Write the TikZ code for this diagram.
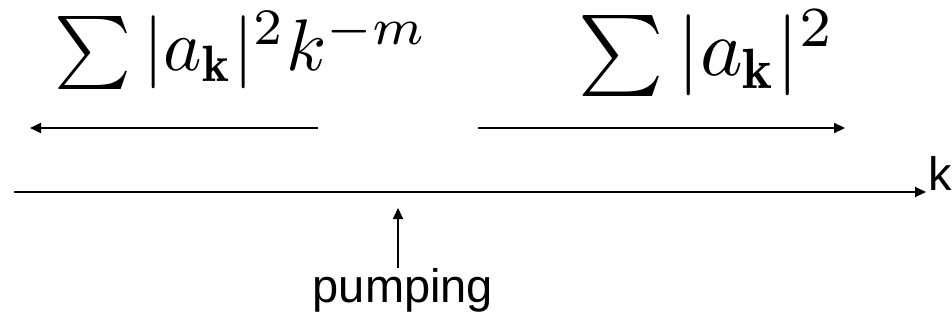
\documentclass[tikz,border=0pt]{standalone}
\usepackage{fontspec}
\newfontfamily\labelfont{Liberation Sans}
\usetikzlibrary{arrows.meta,positioning}

\begin{document}
\begin{tikzpicture}[
  x=1pt, y=1pt,
  every node/.style={inner sep=0pt},
  formula/.style={anchor=base west},
  lbl/.style={font=\labelfont\fontsize{47}{50}\selectfont},
  arr/.style={-{Triangle[length=11pt,width=10pt]}, line width=2pt}
]
\useasboundingbox (0,0) rectangle (952,322);

% spectra
\node[formula, scale=7.3] (lowk)  at (53,251)  {$\sum|a_{\mathbf{k}}|^2k^{-m}$};
\node[formula, scale=8.1] (highk) at (577,246) {$\sum|a_{\mathbf{k}}|^2$};

\coordinate (lowL)  at (30,194);
\coordinate (lowR)  at (318,194);
\coordinate (highL) at (478,194);
\coordinate (highR) at (845,194);
\draw[arr] (lowR)  -- (lowL);
\draw[arr] (highL) -- (highR);

% k axis
\coordinate (ax0) at (14,130);
\coordinate (ax1) at (926,130);
\draw[arr] (ax0) -- (ax1);
\node[lbl, anchor=base west] (k) at (928,132) {k};

% pumping
\coordinate (pin) at (398,114);
\node[lbl, anchor=base] (pump) at (403,20) {pumping};
\draw[arr] (pin |- pump.north) -- (pin);
\end{tikzpicture}
\end{document}
